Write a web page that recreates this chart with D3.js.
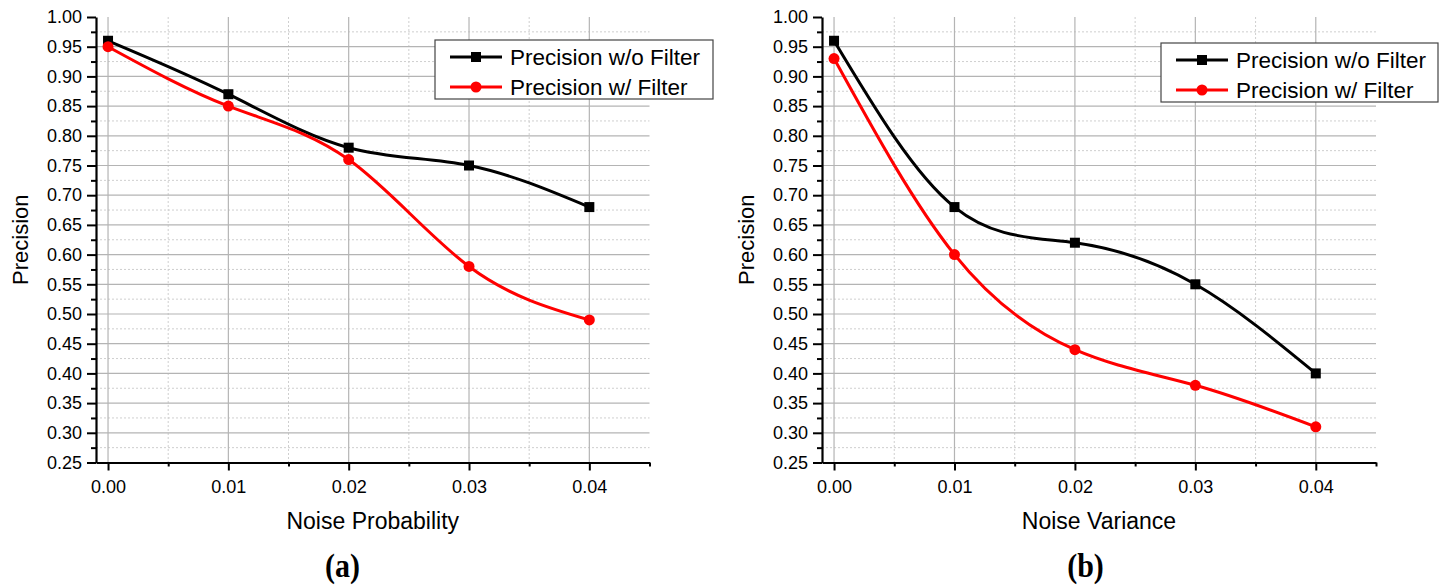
<!DOCTYPE html>
<html><head><meta charset="utf-8">
<script src="https://cdn.jsdelivr.net/npm/d3@7"></script>
<style>
html,body{margin:0;padding:0;background:#fff;}
svg{display:block;font-family:"Liberation Sans",Arial,sans-serif;}
</style></head>
<body><svg id="c" width="1447" height="588"></svg>
<script>
const xValues = [0.00, 0.01, 0.02, 0.03, 0.04];
const xTickLabels = ["0.00","0.01","0.02","0.03","0.04"];
const yTickValues = [0.25,0.30,0.35,0.40,0.45,0.50,0.55,0.60,0.65,0.70,0.75,0.80,0.85,0.90,0.95,1.00];
const seriesNames = ["Precision w/o Filter", "Precision w/ Filter"];
const probNoFilter = [0.96, 0.87, 0.78, 0.75, 0.68];
const probFilter   = [0.95, 0.85, 0.76, 0.58, 0.49];
const varNoFilter  = [0.96, 0.68, 0.62, 0.55, 0.40];
const varFilter    = [0.93, 0.60, 0.44, 0.38, 0.31];
const xTitles = ["Noise Probability", "Noise Variance"];
const panelLabels = ["(a)", "(b)"];

const svg = d3.select("#c");
const panels = [
  {x0: 96, x1: 649.5, lx: 435, ly: 40, lw: 278, labelX: 342.5, data: [probNoFilter, probFilter], title: xTitles[0], label: panelLabels[0]},
  {x0: 822, x1: 1376, lx: 1161, ly: 43, lw: 277, labelX: 1085.5, data: [varNoFilter, varFilter], title: xTitles[1], label: panelLabels[1]}
];
const colors = ["#000000", "#ff0000"];
const yTop = 17, yBot = 462.5;

panels.forEach(p => {
  const g = svg.append("g");
  const x = d3.scaleLinear().domain([-0.001, 0.045]).range([p.x0, p.x1]);
  const y = d3.scaleLinear().domain([0.25, 1.00]).range([yBot, yTop]);

  // minor grid (dotted)
  const minorX = d3.range(0.005, 0.045, 0.01);
  const minorY = d3.range(0.275, 1.0, 0.05);
  g.selectAll(".mgx").data(minorX).join("line")
    .attr("x1", d => x(d)).attr("x2", d => x(d)).attr("y1", yTop).attr("y2", yBot)
    .attr("stroke", "#cfcfcf").attr("stroke-width", 1).attr("stroke-dasharray", "2,2");
  g.selectAll(".mgy").data(minorY).join("line")
    .attr("x1", p.x0).attr("x2", p.x1).attr("y1", d => y(d)).attr("y2", d => y(d))
    .attr("stroke", "#cfcfcf").attr("stroke-width", 1).attr("stroke-dasharray", "2,2");
  // major grid
  g.selectAll(".gx").data(xValues).join("line")
    .attr("x1", d => x(d)).attr("x2", d => x(d)).attr("y1", yTop).attr("y2", yBot)
    .attr("stroke", "#b4b4b4").attr("stroke-width", 1.2);
  g.selectAll(".gy").data(yTickValues.filter(v => v > 0.26 && v < 0.99)).join("line")
    .attr("x1", p.x0).attr("x2", p.x1).attr("y1", d => y(d)).attr("y2", d => y(d))
    .attr("stroke", "#b4b4b4").attr("stroke-width", 1.2);

  // axes
  const xAxis = d3.axisBottom(x).tickValues(xValues).tickFormat((d, i) => xTickLabels[i]).tickSize(8).tickSizeOuter(0).tickPadding(10);
  const gx = g.append("g").attr("transform", `translate(0,${yBot})`).call(xAxis);
  gx.select(".domain").attr("stroke-width", 2.2);
  gx.selectAll(".tick line").attr("stroke-width", 2);
  gx.selectAll(".tick text").attr("font-size", 18).attr("fill", "#000").attr("font-family", "Liberation Sans, Arial");
  const xAxisMinor = d3.axisBottom(x).tickValues(d3.range(0.005, 0.046, 0.01)).tickFormat("").tickSize(4).tickSizeOuter(0);
  const gxm = g.append("g").attr("transform", `translate(0,${yBot})`).call(xAxisMinor);
  gxm.select(".domain").remove();
  gxm.selectAll(".tick line").attr("stroke-width", 2);

  const yAxis = d3.axisLeft(y).tickValues(yTickValues).tickFormat(d3.format(".2f")).tickSize(9).tickSizeOuter(0).tickPadding(5);
  const gy = g.append("g").attr("transform", `translate(${p.x0},0)`).call(yAxis);
  gy.select(".domain").attr("stroke-width", 2.2);
  gy.selectAll(".tick line").attr("stroke-width", 2);
  gy.selectAll(".tick text").attr("font-size", 18).attr("fill", "#000").attr("font-family", "Liberation Sans, Arial");
  const yAxisMinor = d3.axisLeft(y).tickValues(minorY).tickFormat("").tickSize(5).tickSizeOuter(0);
  const gym = g.append("g").attr("transform", `translate(${p.x0},0)`).call(yAxisMinor);
  gym.select(".domain").remove();
  gym.selectAll(".tick line").attr("stroke-width", 2);

  // lines
  const line = d3.line().x((d, i) => x(xValues[i])).y(d => y(d)).curve(d3.curveNatural);
  p.data.forEach((s, k) => {
    g.append("path").attr("d", line(s)).attr("fill", "none").attr("stroke", colors[k]).attr("stroke-width", 3);
  });
  // markers
  g.selectAll(".sq").data(p.data[0]).join("rect")
    .attr("x", (d, i) => x(xValues[i]) - 5).attr("y", d => y(d) - 5).attr("width", 10).attr("height", 10).attr("fill", colors[0]);
  g.selectAll(".ci").data(p.data[1]).join("circle")
    .attr("cx", (d, i) => x(xValues[i])).attr("cy", d => y(d)).attr("r", 5.5).attr("fill", colors[1]);

  // titles
  g.append("text").attr("x", (p.x0 + p.x1) / 2).attr("y", 529).attr("text-anchor", "middle")
    .attr("font-size", 23).attr("fill", "#000").text(p.title);
  g.append("text").attr("transform", `translate(${p.x0 - 68},${(yTop + yBot) / 2}) rotate(-90)`)
    .attr("text-anchor", "middle").attr("font-size", 22).attr("fill", "#000").text("Precision");
  g.append("text").attr("transform", `translate(${p.labelX},577) scale(1,1.15)`).attr("text-anchor", "middle")
    .attr("font-family", "Liberation Serif, Times New Roman, serif").attr("font-weight", "bold")
    .attr("font-size", 30).attr("fill", "#000").text(p.label);

  // legend
  const lg = g.append("g").attr("transform", `translate(${p.lx},${p.ly})`);
  lg.append("rect").attr("width", p.lw).attr("height", 59).attr("fill", "#fff").attr("stroke", "#444").attr("stroke-width", 1.2);
  seriesNames.forEach((nm, k) => {
    const ry = 17 + k * 30;
    lg.append("line").attr("x1", 15).attr("x2", 67).attr("y1", ry).attr("y2", ry).attr("stroke", colors[k]).attr("stroke-width", 3);
    if (k === 0) lg.append("rect").attr("x", 36).attr("y", ry - 5).attr("width", 10).attr("height", 10).attr("fill", colors[k]);
    else lg.append("circle").attr("cx", 41).attr("cy", ry).attr("r", 5.5).attr("fill", colors[k]);
    lg.append("text").attr("x", 75).attr("y", ry + 8).attr("font-size", 22.5).attr("fill", "#000").text(nm);
  });
});
</script></body></html>
